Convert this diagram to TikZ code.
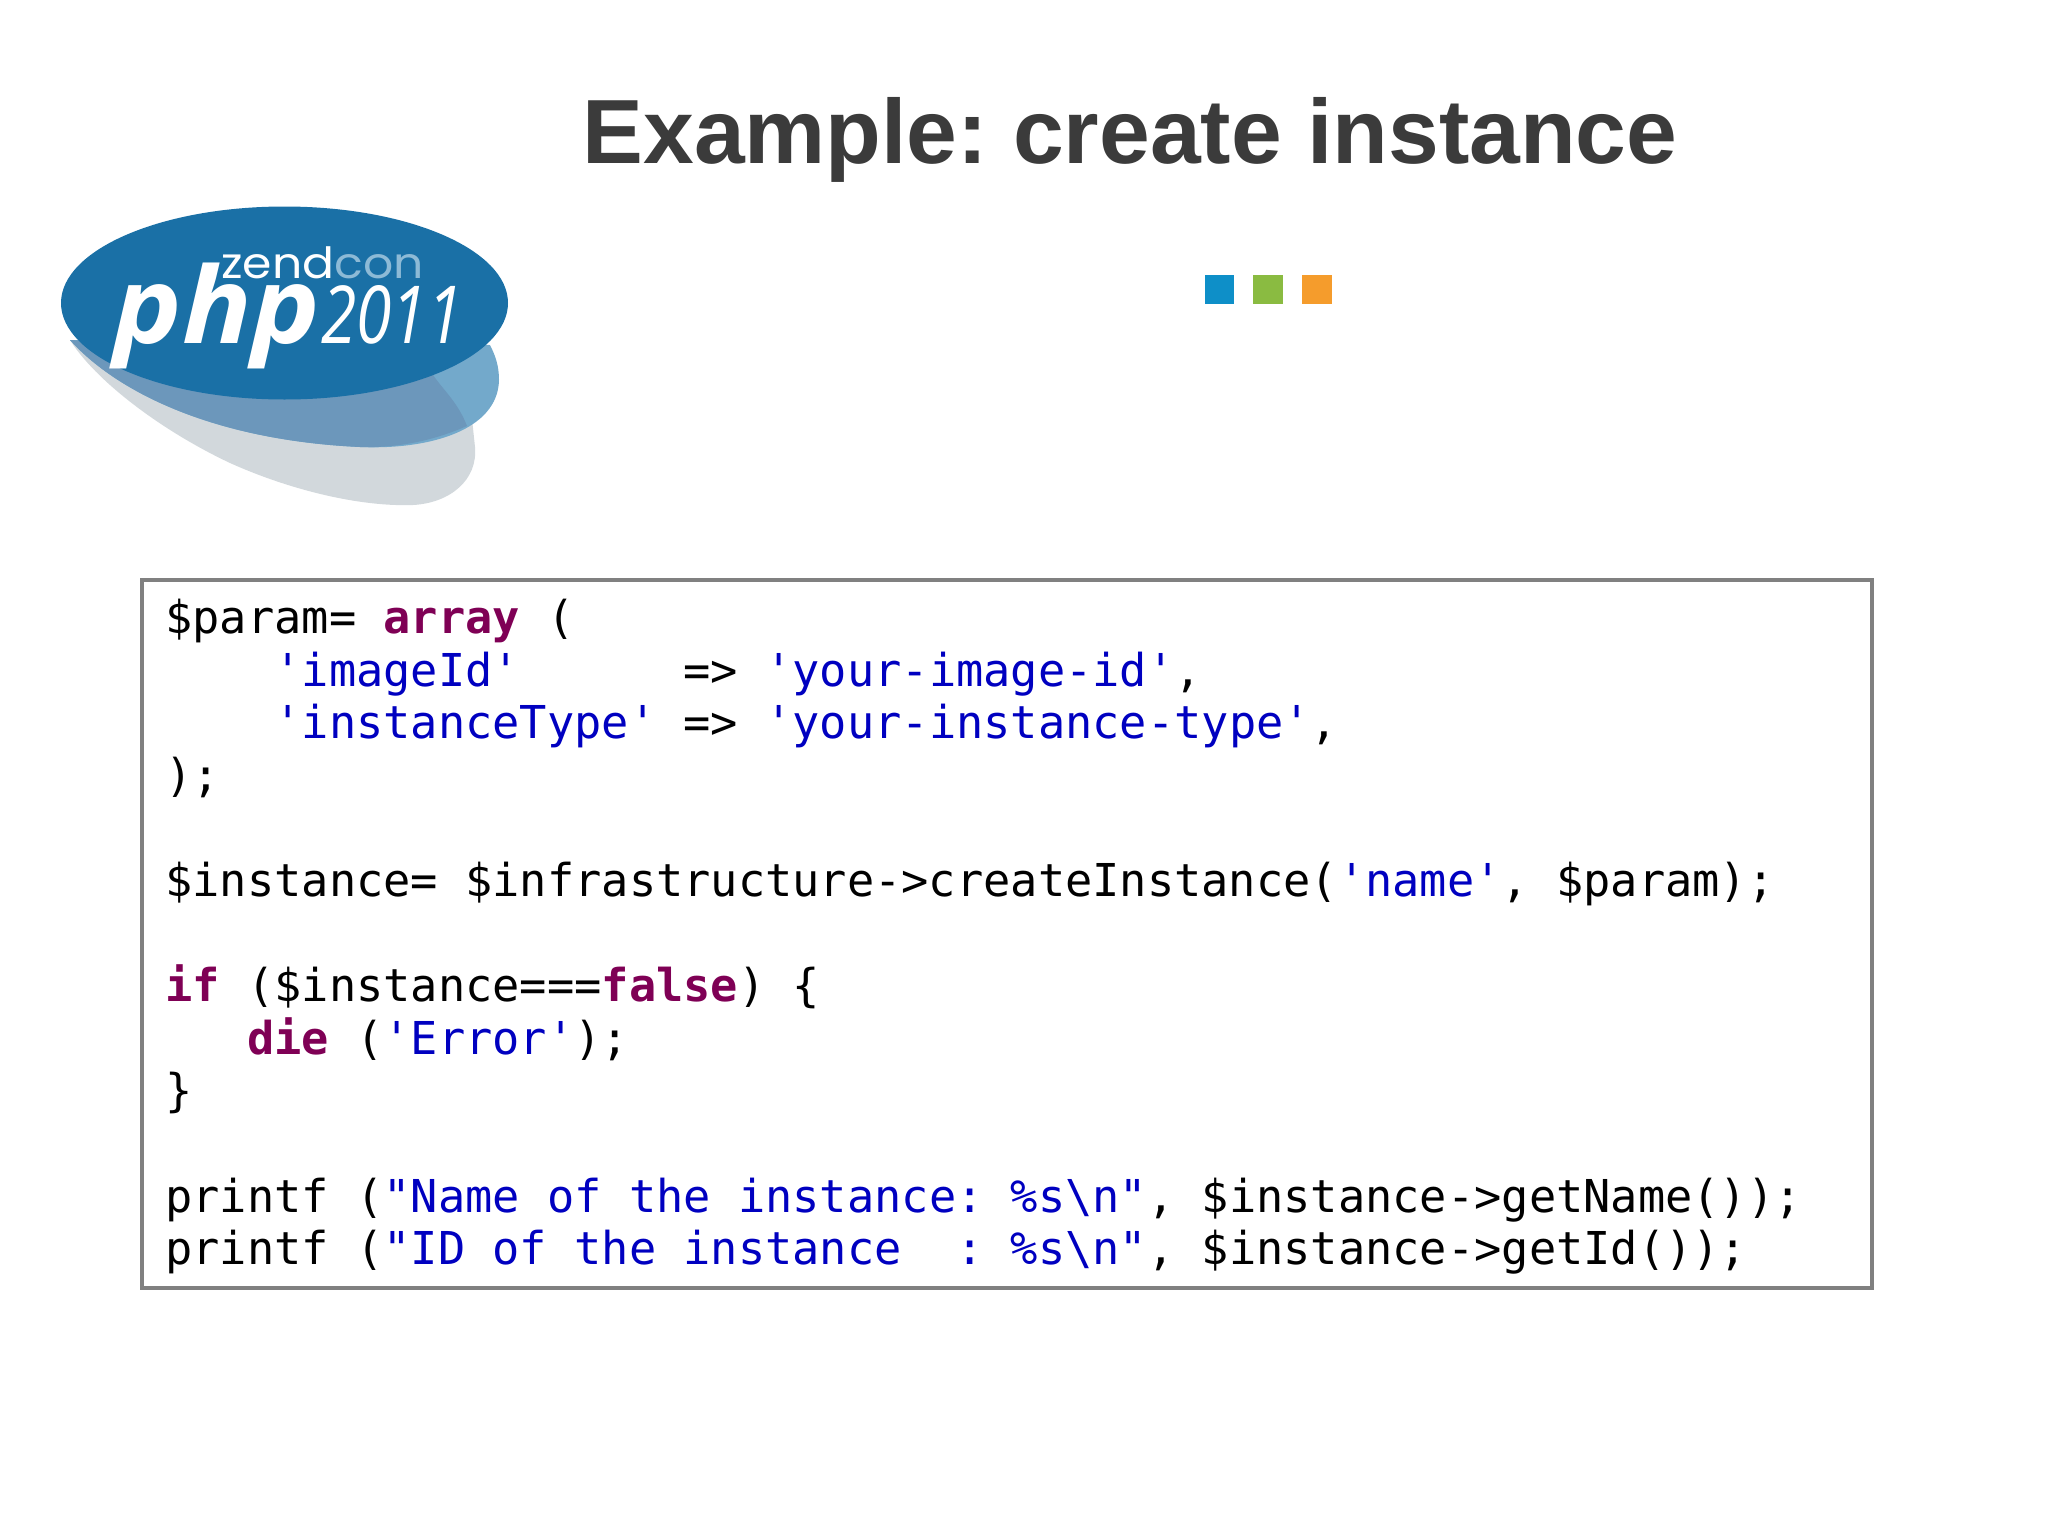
\documentclass[tikz,border=0pt]{standalone}
\usepackage{fontspec}
\usepackage{tikz}
\usetikzlibrary{positioning,shapes.geometric}
\setmainfont{Liberation Sans}
\setmonofont{DejaVu Sans Mono}
\newfontfamily\logofont{Open Sans}
\newfontfamily\zendfont{Poppins}
\definecolor{titlegray}{HTML}{3B3B3B}
\definecolor{framegray}{HTML}{808080}
\definecolor{kwpurple}{HTML}{7F0055}
\definecolor{strblue}{HTML}{0000C0}
\definecolor{logoblue}{HTML}{1A70A6}
\definecolor{logomid}{HTML}{6C97BB}
\definecolor{logolight}{HTML}{73A9CB}
\definecolor{logogray}{HTML}{D2D8DC}
\definecolor{logocon}{HTML}{8DBAD6}
\newcommand{\kw}[1]{\textcolor{kwpurple}{\textbf{#1}}}
\newcommand{\str}[1]{\textcolor{strblue}{#1}}
\newcommand{\sq}{\char39 }
\newcommand{\dq}{\char34 }
\frenchspacing
\tikzset{
 codeline/.style={anchor=base west, inner sep=0pt, font=\ttfamily\fontsize{22.65}{26}\selectfont},
 dot/.style={minimum size=14.8pt, inner sep=0pt, outer sep=0pt}
}
\begin{document}
\begin{tikzpicture}[x=0.5pt, y=-0.5pt]
 \useasboundingbox (0,0) rectangle (2048,1536);
 % title and the three squares
 \node[anchor=base, inner sep=0pt, text=titlegray, font=\bfseries\fontsize{45.6}{50}\selectfont] (title) at (1130,163) {Example: create instance};
 \node[dot, fill={rgb,255:red,14;green,143;blue,200}] (sqblue) at (1219.5,289.5) {};
 \node[dot, fill={rgb,255:red,138;green,187;blue,65}, right=9.5pt of sqblue] (sqgreen) {};
 \node[dot, fill={rgb,255:red,245;green,156;blue,44}, right=9.5pt of sqgreen] (sqorange) {};
 % logo
 \fill[logogray] (70,340) .. controls (95,380) and (160,430) .. (230,463) .. controls (290,490) and (360,507) .. (413,505)
   .. controls (450,503) and (478,480) .. (475,447) -- (470,400) -- cycle;
 \fill[logolight] (70,340) .. controls (115,390) and (210,440) .. (360,447) .. controls (430,450) and (498,430) .. (499,380)
   .. controls (499,365) and (495,355) .. (490,345) -- cycle;
 \fill[logomid] (70,340) .. controls (115,390) and (210,440) .. (360,447) .. controls (395,448) and (430,442) .. (467,426)
   .. controls (455,395) and (435,385) .. (425,360) -- cycle;
 \node[ellipse, fill=logoblue, minimum width=223.5pt, minimum height=96.5pt, inner sep=0pt, outer sep=0pt] (logo) at (284.5,303) {};
 \node[anchor=base west, inner sep=0pt, text=white, xscale=1.1, font=\zendfont\fontsize{21.5}{24}\selectfont] (zend) at (221,278) {zend\textcolor{logocon}{con}};
 \node[anchor=base west, inner sep=0pt, text=white, xscale=1.09, font=\logofont\bfseries\itshape\fontsize{53}{56}\selectfont] (php) at (113,343) {php};
 \node[anchor=base west, inner sep=0pt, text=white, xscale=0.8, font=\logofont\itshape\fontsize{40}{44}\selectfont] (year) at (321,343) {2011};
 % code listing
 \node[draw=framegray, line width=2pt, minimum width=865pt, minimum height=354pt, inner sep=0pt] (codebox) at (1007,933.5) {};
 \node[codeline] (l1) at (165,633.5) {\$param= \kw{array} (};
 \node[codeline] (l2) at (165,686.1) {\ \ \ \ \str{\sq imageId\sq}\ \ \ \ \ \ => \str{\sq your-image-id\sq},};
 \node[codeline] (l3) at (165,738.7) {\ \ \ \ \str{\sq instanceType\sq} => \str{\sq your-instance-type\sq},};
 \node[codeline] (l4) at (165,791.3) {);};
 \node[codeline] (l6) at (165,896.5) {\$instance= \$infrastructure->createInstance(\str{\sq name\sq}, \$param);};
 \node[codeline] (l8) at (165,1001.7) {\kw{if} (\$instance===\kw{false}) \{};
 \node[codeline] (l9) at (165,1054.3) {\ \ \ \kw{die} (\str{\sq Error\sq});};
 \node[codeline] (l10) at (165,1106.9) {\}};
 \node[codeline] (l12) at (165,1212.1) {printf (\str{\dq Name of the instance: \%s\textbackslash n\dq}, \$instance->getName());};
 \node[codeline] (l13) at (165,1264.7) {printf (\str{\dq ID of the instance\ \ : \%s\textbackslash n\dq}, \$instance->getId());};
\end{tikzpicture}
\end{document}
